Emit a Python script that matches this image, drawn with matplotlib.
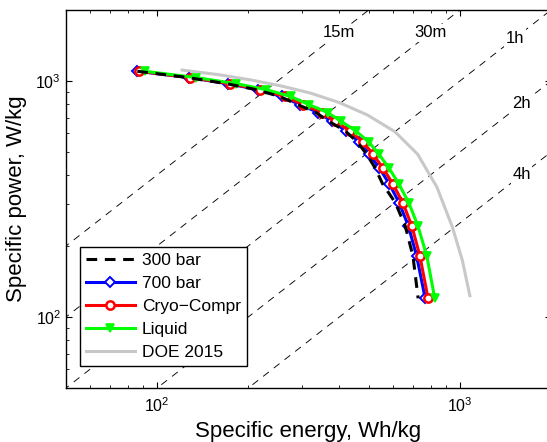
import numpy as np
import matplotlib
matplotlib.use("Agg")
import matplotlib.pyplot as plt
from matplotlib.ticker import NullFormatter

plt.rcParams['font.family'] = ['Liberation Sans', 'DejaVu Sans']
plt.rcParams['mathtext.fontset'] = 'custom'
plt.rcParams['mathtext.rm'] = 'Liberation Sans'
plt.rcParams['mathtext.it'] = 'Liberation Sans:italic'

# ---- data ----
power = [1100, 1035, 975, 920, 860, 795, 735, 675, 615, 552, 490, 428, 366, 305, 243, 181, 120]
energy_300 = [86, 126, 169, 212, 254, 291, 335, 369, 418, 458, 492, 525, 556, 612, 660, 700, 728]
energy_700 = [86, 127, 171, 215, 258, 296, 341, 377, 421, 465, 502, 542, 585, 630, 676, 720, 768]
energy_cryo = [87, 128, 174, 219, 264, 303, 350, 387, 433, 478, 516, 557, 601, 648, 694, 738, 785]
energy_liq = [91, 134, 182, 229, 276, 317, 366, 405, 453, 500, 540, 583, 629, 678, 727, 778, 826]

doe_energy = [121, 161, 203, 255, 320, 400, 495, 610, 725, 840, 945, 1020, 1079]
doe_power = [1113, 1062, 1012, 955, 890, 810, 718, 610, 490, 355, 240, 173, 123]

time_hours = [0.25, 0.5, 1, 2, 4]
time_labels = ['15m', '30m', '1h', '2h', '4h']

W, H = 547, 442
fig = plt.figure(figsize=(W / 100, H / 100), dpi=100)
ax = fig.add_axes([66 / W, (H - 388) / H, 485 / W, 378 / H])
ax.set_xscale('log')
ax.set_yscale('log')
ax.set_xlim(50, 2000)
ax.set_ylim(50, 2000)

# constant-time lines
e_line = np.logspace(np.log10(30), np.log10(3000), 50)
for t, lab in zip(time_hours, time_labels):
    ax.plot(e_line, e_line / t, color='black', lw=0.65, dashes=(8, 7), zorder=1)
    if t < 1:
        py = 1600
        px = py * t
    else:
        px = 1520 if t == 1 else 1600
        py = px / t
    ax.text(px, py, lab, fontsize=12, ha='center', va='center', zorder=2,
            bbox=dict(facecolor='white', edgecolor='none', pad=1.0))

lw = 2.2
ldoe, = ax.plot(doe_energy, doe_power, color='#c8c8c8', lw=2.2, zorder=3, label='DOE 2015')
l300, = ax.plot(energy_300, power, color='black', lw=lw, dashes=(3.5, 2.5), zorder=7, label='300 bar')
l700, = ax.plot(energy_700, power, color='#0000ff', lw=lw, marker='D', ms=5, mfc='white',
                mec='#0000ff', mew=1.4, zorder=4, label='700 bar')
lcry, = ax.plot(energy_cryo, power, color='#ff0000', lw=lw, marker='o', ms=6, mfc='white',
                mec='#ff0000', mew=1.8, zorder=5, label='Cryo\u2212Compr')
lliq, = ax.plot(energy_liq, power, color='#00ff00', lw=lw, marker='v', ms=6, mfc='#00ff00',
                mec='#00ff00', mew=1.2, zorder=6, label='Liquid')

for side in ['top', 'bottom', 'left', 'right']:
    ax.spines[side].set_linewidth(1.0)
ax.tick_params(which='both', direction='in', top=True, right=True, labelsize=11.5)
ax.tick_params(which='major', length=4, width=0.8)
ax.tick_params(which='minor', length=2.2, width=0.6)
ax.xaxis.set_minor_formatter(NullFormatter())
ax.yaxis.set_minor_formatter(NullFormatter())
ax.tick_params(axis='x', pad=6)

ax.set_xlabel('Specific energy, Wh/kg', fontsize=16, labelpad=4)
ax.set_ylabel('Specific power, W/kg', fontsize=16, labelpad=6)

leg = ax.legend([l300, l700, lcry, lliq, ldoe],
                ['300 bar', '700 bar', 'Cryo\u2212Compr', 'Liquid', 'DOE 2015'],
                loc='lower left', bbox_to_anchor=(0.029, 0.058), borderaxespad=0,
                fontsize=12.5, fancybox=False, framealpha=1, edgecolor='black',
                handlelength=2.8, handletextpad=0.4, labelspacing=0.45, borderpad=0.35)
leg.get_frame().set_linewidth(1.0)
leg.set_zorder(20)

fig.savefig('out.png', dpi=100)
